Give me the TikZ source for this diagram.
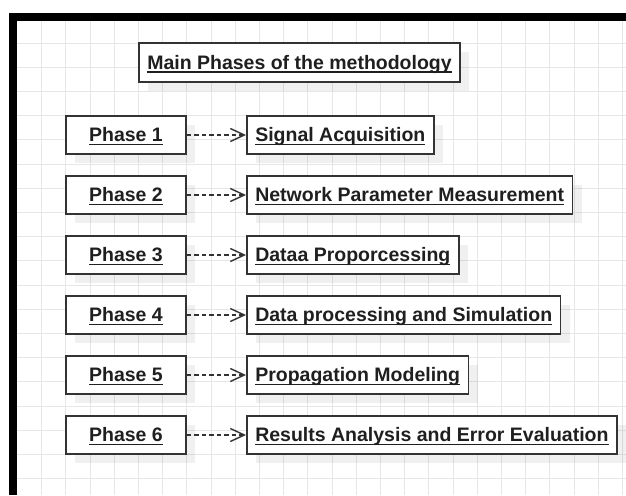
\documentclass[tikz,border=0pt]{standalone}
\usepackage{fontspec}
\setmainfont{Liberation Sans}
\usetikzlibrary{arrows.meta,shadows}

\definecolor{inkgray}{HTML}{333333}
\definecolor{gridgray}{HTML}{E6E6E6}

% underline at a fixed depth, through the descenders
\newcommand{\uword}[1]{\setbox0=\hbox{#1}\rlap{\rule[-3.5pt]{\wd0}{1.5pt}}\box0}

\begin{document}
\begin{tikzpicture}[
    x=1pt, y=-1pt,
    font=\fontsize{19.5}{23}\selectfont\bfseries,
    box/.style={draw=inkgray, fill=white, line width=1.6pt, text=black!88,
        minimum height=38pt, inner xsep=8.5pt, text height=16pt, text depth=2.5pt,
        drop shadow={shadow xshift=9pt, shadow yshift=-9pt, fill=black, opacity=0.06}},
    phasebox/.style={box, minimum width=120pt},
    link/.style={draw=inkgray, line width=1.4pt, dash pattern=on 4.5pt off 3pt,
        -{Straight Barb[length=14pt,width=13pt]}},
    gridline/.style={gridgray, line width=0.9pt}
]

    % Page and grid
    \useasboundingbox (0,0) rectangle (626,495);
    \fill[white] (0,0) rectangle (626,495);
    \foreach \i in {1,...,25}
        \draw[gridline] ({17.5+24.2*\i},21) -- ({17.5+24.2*\i},495);
    \foreach \j in {1,...,19}
        \draw[gridline] (16,{18.8+24.2*\j}) -- (626,{18.8+24.2*\j});

    % Frame (top and left only)
    \draw[line width=7.5pt] (12.8,495) -- (12.8,17.2) -- (626,17.2);

    % Title
    \node[box, anchor=west, minimum height=39pt] (title) at (138,62.5) {\uword{Main Phases of the methodology}};

    % Phases
    \node[phasebox] (ph1) at (126,135) {\uword{Phase 1}};
    \node[phasebox] (ph2) at (126,195) {\uword{Phase 2}};
    \node[phasebox] (ph3) at (126,255) {\uword{Phase 3}};
    \node[phasebox] (ph4) at (126,315) {\uword{Phase 4}};
    \node[phasebox] (ph5) at (126,375) {\uword{Phase 5}};
    \node[phasebox] (ph6) at (126,435) {\uword{Phase 6}};

    % Steps
    \node[box, anchor=west] (acq) at (246,135) {\uword{Signal Acquisition}};
    \node[box, anchor=west] (meas) at (246,195) {\uword{Network Parameter Measurement}};
    \node[box, anchor=west] (prep) at (246,255) {\uword{Dataa Proporcessing}};
    \node[box, anchor=west] (sim) at (246,315) {\uword{Data processing and Simulation}};
    \node[box, anchor=west] (model) at (246,375) {\uword{Propagation Modeling}};
    \node[box, anchor=west] (eval) at (246,435) {\uword{Results Analysis and Error Evaluation}};

    % Links
    \draw[link] (ph1) -- (acq);
    \draw[link] (ph2) -- (meas);
    \draw[link] (ph3) -- (prep);
    \draw[link] (ph4) -- (sim);
    \draw[link] (ph5) -- (model);
    \draw[link] (ph6) -- (eval);

\end{tikzpicture}
\end{document}
